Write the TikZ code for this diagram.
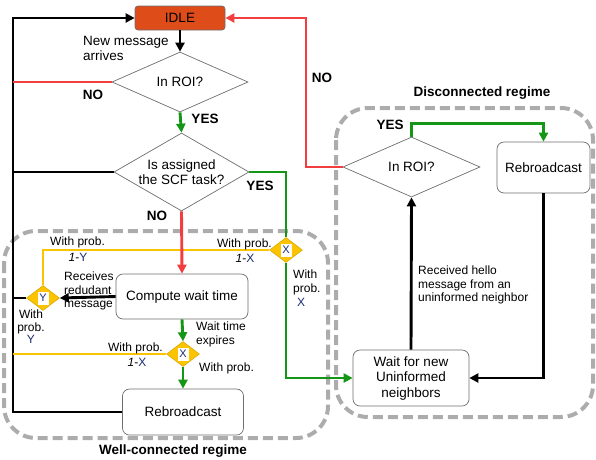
\documentclass[tikz,border=0pt]{standalone}
\usepackage{fontspec}
\setmainfont{Liberation Sans}
\usetikzlibrary{arrows.meta,shapes.geometric}
\definecolor{cred}{RGB}{242,62,62}
\definecolor{cgreen}{RGB}{22,150,22}
\definecolor{cyel}{RGB}{252,196,0}
\definecolor{cidle}{RGB}{222,76,26}
\definecolor{cgray}{RGB}{172,172,172}
\definecolor{cedge}{RGB}{110,110,110}
\definecolor{cblue}{RGB}{25,45,115}
\begin{document}
\begin{tikzpicture}[x=1pt,y=-1pt,
  box/.style={draw=cedge, line width=0.7pt, rounded corners=7pt, fill=white, align=center, font=\fontsize{13.5}{15.5}\selectfont, inner sep=0},
  dia/.style={draw=cedge, line width=0.7pt, diamond, inner sep=0, fill=white},
  dtext/.style={align=center, font=\fontsize{13.5}{15.5}\selectfont, inner sep=0},
  lab/.style={font=\fontsize{12}{13.8}\selectfont, align=left, inner sep=0},
  blab/.style={font=\bfseries\fontsize{13.5}{15}\selectfont, inner sep=0},
  conn/.style={line width=2.9pt},
  arr/.style={-{Triangle[length=9pt,width=9pt]}},
  ydia/.style={diamond, fill=cyel, draw=cyel!85!black, line width=0.5pt, minimum width=33pt, minimum height=25pt, inner sep=0},
  yin/.style={fill=white, inner sep=0, minimum width=11pt, minimum height=13pt, font=\fontsize{11}{12}\selectfont\color{cblue}},
  region/.style={draw=cgray, line width=4pt, dash pattern=on 10pt off 5pt, rounded corners=32pt}
]
\useasboundingbox (0,0) rectangle (596,459);

% regions
\draw[region] (4,231) rectangle (328,438);
\draw[region] (336,108) rectangle (593,417);

% nodes
\node[box, fill=cidle, rounded corners=3pt, minimum width=90pt, minimum height=24pt] (idle) at (180,18) {IDLE};
\node[dia, minimum width=136pt, minimum height=60pt] (roi) at (180,82) {};
\node[dtext] at (roi) {In ROI?};
\node[dia, minimum width=135pt, minimum height=78pt] (scf) at (181.5,172) {};
\node[dtext] at (scf) {Is assigned\\the SCF task?};
\node[box, minimum width=132pt, minimum height=45pt] (comp) at (182,296.5) {Compute wait time};
\node[ydia] (x1) at (286,250) {};
\node[yin] at (x1) {X};
\node[ydia] (y1) at (43,298) {};
\node[yin] at (y1) {Y};
\node[ydia] (x2) at (183,354) {};
\node[yin] at (x2) {X};
\node[box, minimum width=121pt, minimum height=46pt] (reb1) at (183,412) {Rebroadcast};
\node[dia, minimum width=137pt, minimum height=60pt] (roi2) at (411.5,167) {};
\node[dtext] at (roi2) {In ROI?};
\node[box, minimum width=93pt, minimum height=51pt] (reb2) at (543.5,167.5) {Rebroadcast};
\node[box, minimum width=116pt, minimum height=56pt] (wait) at (411,378) {Wait for new\\Uninformed\\neighbors};

\coordinate (tl) at (13,18);
\coordinate (tr) at (306,18);

% connectors
\draw[conn,arr] (reb1.west) -- (reb1.west -| tl) -- (tl) -- (idle.west);
\draw[conn,arr] (idle.south) -- (roi.north);
\draw[conn,cred] (roi.west) -- (roi.west -| tl);
\draw[conn,cgreen,arr] (roi.south) -- (scf.north);
\draw[conn] (scf.west) -- (scf.west -| tl);
\draw[conn,cgreen] (scf.east) -| (x1.north);
\draw[conn,cgreen,arr] (x1.south) |- (wait.west);
\draw[conn,cyel] (x1.west) -| (y1.north);
\draw[conn,arr] (comp.west) -- (y1.east);
\draw[conn] (y1.west) -- (y1.west -| tl);
\draw[conn,cred,arr] (scf.south) -- (comp.north);
\draw[conn,cgreen,arr] (comp.south) -- (x2.north);
\draw[conn,cyel] (x2.west) -- (x2.west -| tl);
\draw[conn,cgreen,arr] (x2.south) -- (reb1.north);
\draw[conn,cred,arr] (roi2.west) -- (roi2.west -| tr) -- (tr) -- (idle.east);
\draw[conn,cgreen,arr] (roi2.north) -- ++(0,-13) -| (reb2.north);
\draw[conn,arr] (reb2.south) |- (wait.east);
\draw[conn,arr] (wait.north) -- (roi2.south);

% labels
\node[lab, font=\fontsize{13.5}{15}\selectfont, anchor=west] (lnew) at (83,48.5) {New message\\arrives};
\node[blab] (lno1) at (93,95) {NO};
\node[blab] (lyes1) at (205,119) {YES};
\node[blab] (lyes2) at (260,186) {YES};
\node[blab] (lno2) at (157,216) {NO};
\node[lab, anchor=east] (lwp1) at (272,244) {With prob.};
\node[lab] (l1x1) at (245,258) {{\itshape 1}-{\color{cblue}X}};
\node[lab, anchor=north west] (lwpx) at (293,270) {With\\prob.\\\hspace{4pt}{\color{cblue}X}};
\node[lab, anchor=west] (lwp2) at (50,242) {With prob.};
\node[lab] (l1y) at (78,257) {{\itshape 1}-{\color{cblue}Y}};
\node[lab, anchor=west] (lrec) at (64,291) {Receives\\redudant\\message};
\node[lab, align=center, font=\fontsize{12}{12.5}\selectfont] (lwpy) at (31,327) {With\\prob.\\{\color{cblue}Y}};
\node[lab, anchor=west] (lwait) at (196,334.5) {Wait time\\expires};
\node[lab, anchor=east] (lwp3) at (163,348) {With prob.};
\node[lab] (l1x2) at (137,362) {{\itshape 1}-{\color{cblue}X}};
\node[lab, anchor=west] (lwp4) at (199,368) {With prob.};
\node[blab] (lno3) at (322,78) {NO};
\node[blab] (lyes3) at (390,125) {YES};
\node[blab] (ldis) at (482,93) {Disconnected regime};
\node[lab, anchor=west] (lhello) at (418,285) {Received hello\\message from an\\uninformed neighbor};
\node[blab] (lwell) at (173,451) {Well-connected regime};
\end{tikzpicture}
\end{document}
